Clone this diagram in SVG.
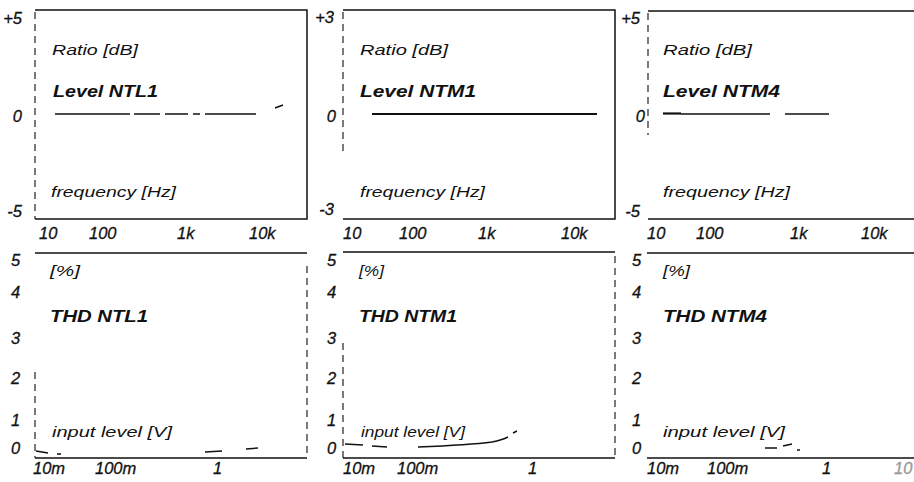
<svg xmlns="http://www.w3.org/2000/svg" width="914" height="482" viewBox="0 0 914 482">
<style>
.ax{stroke:#111;stroke-width:1.5;fill:none}
.axd{stroke:#222;stroke-width:1.2;fill:none;stroke-dasharray:7 5}
.crv{stroke:#111;stroke-width:1.5;fill:none}
.crvt{stroke:#111;stroke-width:2.2;fill:none}
.num{font-family:"Liberation Sans",Arial,sans-serif;font-style:italic;font-size:16.5px;fill:#111;stroke:#111;stroke-width:0.3}
.lbl{font-family:"Liberation Sans",Arial,sans-serif;font-style:italic;font-size:15px;fill:#111}
.ttl{font-family:"Liberation Sans",Arial,sans-serif;font-style:italic;font-weight:bold;font-size:16px;fill:#111}
</style>
<rect width="914" height="482" fill="#fff"/>

<g id="level-ntl1">
  <path class="ax" d="M35 10H307V219H35"/>
  <path class="axd" d="M35 12V219"/>
  <text class="num" x="22" y="24" text-anchor="end">+5</text>
  <text class="num" x="22" y="122" text-anchor="end">0</text>
  <text class="num" x="22" y="217" text-anchor="end">-5</text>
  <text class="lbl" x="52" y="55" textLength="86" lengthAdjust="spacingAndGlyphs">Ratio [dB]</text>
  <text class="ttl" x="53" y="97" textLength="105" lengthAdjust="spacingAndGlyphs">Level NTL1</text>
  <text class="lbl" x="51" y="197" textLength="125" lengthAdjust="spacingAndGlyphs">frequency [Hz]</text>
  <path class="crv" d="M55 114H130M134 114H160M165 114H188M193 114H200M205 114H256M275 108L283 105"/>
  <text class="num" x="39" y="239">10</text>
  <text class="num" x="89" y="239">100</text>
  <text class="num" x="177" y="239">1k</text>
  <text class="num" x="249" y="239">10k</text>
</g>

<g id="level-ntm1">
  <path class="ax" d="M343 10H615V219H343"/>
  <path class="axd" d="M343 12V155"/>
  <text class="num" x="334" y="23" text-anchor="end">+3</text>
  <text class="num" x="336" y="122" text-anchor="end">0</text>
  <text class="num" x="334" y="215" text-anchor="end">-3</text>
  <text class="lbl" x="360" y="55" textLength="88" lengthAdjust="spacingAndGlyphs">Ratio [dB]</text>
  <text class="ttl" x="360" y="97" textLength="116" lengthAdjust="spacingAndGlyphs">Level NTM1</text>
  <text class="lbl" x="360" y="197" textLength="125" lengthAdjust="spacingAndGlyphs">frequency [Hz]</text>
  <path class="crvt" d="M372 114H597"/>
  <text class="num" x="343" y="239">10</text>
  <text class="num" x="399" y="239">100</text>
  <text class="num" x="478" y="239">1k</text>
  <text class="num" x="561" y="239">10k</text>
</g>

<g id="level-ntm4">
  <path class="ax" d="M648 11H914M648 219H914"/>
  <path class="axd" d="M648 13V135"/>
  <text class="num" x="640" y="24" text-anchor="end">+5</text>
  <text class="num" x="645" y="122" text-anchor="end">0</text>
  <text class="num" x="640" y="217" text-anchor="end">-5</text>
  <text class="lbl" x="663" y="55" textLength="89" lengthAdjust="spacingAndGlyphs">Ratio [dB]</text>
  <text class="ttl" x="663" y="97" textLength="117" lengthAdjust="spacingAndGlyphs">Level NTM4</text>
  <text class="lbl" x="663" y="197" textLength="127" lengthAdjust="spacingAndGlyphs">frequency [Hz]</text>
  <path class="crvt" d="M663 113.5H681"/>
  <path class="crv" d="M681 114H770M785 114H829"/>
  <text class="num" x="647" y="239">10</text>
  <text class="num" x="696" y="239">100</text>
  <text class="num" x="790" y="239">1k</text>
  <text class="num" x="861" y="239">10k</text>
</g>

<g id="thd-ntl1">
  <path class="ax" d="M35 253H307M35 458H307"/>
  <path class="axd" d="M35 372V458M307 266V458"/>
  <text class="num" x="11" y="266">5</text>
  <text class="num" x="11" y="298">4</text>
  <text class="num" x="11" y="344">3</text>
  <text class="num" x="11" y="384">2</text>
  <text class="num" x="11" y="426">1</text>
  <text class="num" x="11" y="454">0</text>
  <text class="lbl" x="50" y="276" textLength="30" lengthAdjust="spacingAndGlyphs">[%]</text>
  <text class="ttl" x="50" y="322" textLength="98" lengthAdjust="spacingAndGlyphs">THD NTL1</text>
  <text class="lbl" x="52" y="437" textLength="120" lengthAdjust="spacingAndGlyphs">input level [V]</text>
  <path class="crv" d="M36 451L48 453M57 454H61M205 452L222 451M246 449L258 448"/>
  <text class="num" x="33" y="474">10m</text>
  <text class="num" x="95" y="474">100m</text>
  <text class="num" x="213" y="474">1</text>
</g>

<g id="thd-ntm1">
  <path class="ax" d="M343 252H615M343 458H615"/>
  <path class="axd" d="M343 343V458M615 256V458"/>
  <text class="num" x="327" y="266">5</text>
  <text class="num" x="327" y="298">4</text>
  <text class="num" x="327" y="344">3</text>
  <text class="num" x="327" y="384">2</text>
  <text class="num" x="327" y="426">1</text>
  <text class="num" x="327" y="454">0</text>
  <text class="lbl" x="359" y="276" textLength="25" lengthAdjust="spacingAndGlyphs">[%]</text>
  <text class="ttl" x="359" y="322" textLength="98" lengthAdjust="spacingAndGlyphs">THD NTM1</text>
  <text class="lbl" x="361" y="437" textLength="104" lengthAdjust="spacingAndGlyphs">input level [V]</text>
  <path class="crv" d="M345 444L363 445M372 446L387 447M418 447Q470 445 492 442Q502 440 508 437M513 433L517 431"/>
  <text class="num" x="343" y="474">10m</text>
  <text class="num" x="397" y="474">100m</text>
  <text class="num" x="528" y="474">1</text>
</g>

<g id="thd-ntm4">
  <path class="ax" d="M647 253H914M647 458H914"/>
  <text class="num" x="632" y="266">5</text>
  <text class="num" x="632" y="298">4</text>
  <text class="num" x="632" y="344">3</text>
  <text class="num" x="632" y="384">2</text>
  <text class="num" x="632" y="426">1</text>
  <text class="num" x="632" y="454">0</text>
  <text class="lbl" x="663" y="276" textLength="27" lengthAdjust="spacingAndGlyphs">[%]</text>
  <text class="ttl" x="663" y="322" textLength="104" lengthAdjust="spacingAndGlyphs">THD NTM4</text>
  <text class="lbl" x="663" y="437" textLength="122" lengthAdjust="spacingAndGlyphs">input level [V]</text>
  <path class="crv" d="M765 448H777M783 446L792 444M797 450H800"/>
  <text class="num" x="647" y="474">10m</text>
  <text class="num" x="707" y="474">100m</text>
  <text class="num" x="822" y="474">1</text>
  <text class="num" x="894" y="474" style="fill:#999;stroke:#999">10</text>
</g>
</svg>
